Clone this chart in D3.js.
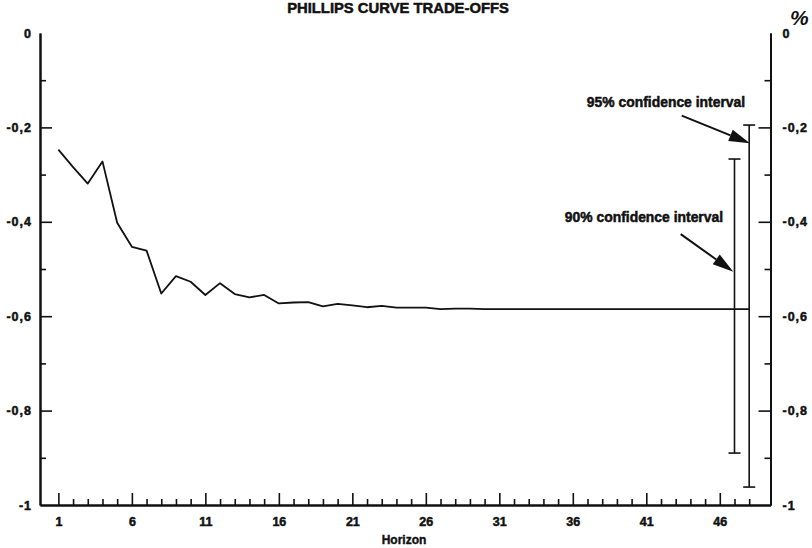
<!DOCTYPE html>
<html>
<head>
<meta charset="utf-8">
<script src="https://cdn.jsdelivr.net/npm/d3@7"></script>
<style>
  html, body { margin: 0; padding: 0; background: #fff; }
  svg { display: block; }
  text { font-family: "Liberation Sans", Arial, sans-serif; font-weight: bold; fill: #111; }
</style>
</head>
<body>
<svg id="chart" width="812" height="548"></svg>
<script>
// Horizon (quarters) and the estimated trade-off at each horizon
const horizon = [1, 2, 3, 4, 5, 6, 7, 8, 9, 10, 11, 12, 13, 14, 15, 16, 17, 18, 19, 20, 21, 22, 23, 24,
                 25, 26, 27, 28, 29, 30, 31, 32, 33, 34, 35, 36, 37, 38, 39, 40, 41, 42, 43, 44, 45, 46, 47, 48];
const tradeOff = [-0.247, -0.284, -0.319, -0.272, -0.402, -0.453, -0.461, -0.552, -0.515, -0.527, -0.555, -0.530,
                  -0.553, -0.560, -0.555, -0.573, -0.571, -0.570, -0.579, -0.574, -0.577, -0.581, -0.578, -0.582,
                  -0.582, -0.582, -0.585, -0.584, -0.584, -0.585, -0.585, -0.585, -0.585, -0.585, -0.585, -0.585,
                  -0.585, -0.585, -0.585, -0.585, -0.585, -0.585, -0.585, -0.585, -0.585, -0.585, -0.585, -0.585];

// Confidence intervals shown at the end of the horizon
const intervalNames = ["90% confidence interval", "95% confidence interval"];
const intervalAt = [47, 48];
const intervalLow = [-0.89, -0.962];
const intervalHigh = [-0.267, -0.195];

// Label and arrow anchors (horizon, value)
const labelPos = [[40.84, -0.389], [42.34, -0.1455]];
const arrowFrom = [[43.34, -0.426], [43.41, -0.175]];
const arrowTo = [[46.92, -0.5057], [48.05, -0.2337]];

// Axis ticks
const xLabelTicks = [1, 6, 11, 16, 21, 26, 31, 36, 41, 46];
const yMajorTicks = [0, -0.2, -0.4, -0.6, -0.8, -1];
const yMinorTicks = [-0.1, -0.3, -0.5, -0.7, -0.9];

const title = "PHILLIPS CURVE TRADE-OFFS";
const xTitle = "Horizon";
const unit = "%";

const svg = d3.select("#chart");
const ink = "#111";

const x = d3.scaleLinear().domain([-0.25, 49.45]).range([40, 770.5]);
const y = d3.scaleLinear().domain([-1, 0]).range([505, 33]);

const fmt = v => v === 0 ? "0" : (v === -1 ? "-1" : "-" + d3.format(".1f")(-v).replace(".", ","));

// Heavy lettering: bold face with a thin outline of the same ink
function heavy(sel, w) {
  sel.attr("stroke", ink).attr("stroke-width", w).attr("stroke-linejoin", "round");
}

function styleAxis(g) {
  g.select(".domain").attr("stroke", ink).attr("stroke-width", 2);
  g.selectAll(".tick line").attr("stroke", ink).attr("stroke-width", 1.6);
  g.selectAll(".tick text").attr("fill", ink).attr("font-size", 12.5)
    .attr("font-family", '"Liberation Sans", Arial, sans-serif').attr("font-weight", "bold")
    .call(heavy, 0.5);
}

// Bottom axis: labelled major ticks every five quarters, minor ticks in between
const minorX = horizon.filter(h => !xLabelTicks.includes(h));
svg.append("g").attr("transform", `translate(0,${y(-1)})`)
  .call(d3.axisBottom(x).tickValues(minorX).tickSizeInner(-6).tickSizeOuter(0).tickFormat(""))
  .call(styleAxis);
svg.append("g").attr("transform", `translate(0,${y(-1)})`)
  .call(d3.axisBottom(x).tickValues(xLabelTicks).tickSizeInner(-12).tickSizeOuter(0).tickPadding(12).tickFormat(d3.format("d")))
  .call(styleAxis);

// Left axis
svg.append("g").attr("transform", `translate(${x.range()[0]},0)`)
  .call(d3.axisLeft(y).tickValues(yMinorTicks).tickSizeInner(-6).tickSizeOuter(0).tickFormat(""))
  .call(styleAxis);
const leftAxis = svg.append("g").attr("transform", `translate(${x.range()[0]},0)`)
  .call(d3.axisLeft(y).tickValues(yMajorTicks).tickSizeInner(-12).tickSizeOuter(0).tickPadding(8).tickFormat(fmt))
  .call(styleAxis);
leftAxis.selectAll(".tick").filter(d => d === 0 || d === -1).select("line").remove();
leftAxis.selectAll(".tick text").attr("letter-spacing", 1);

// Right axis
svg.append("g").attr("transform", `translate(${x.range()[1]},0)`)
  .call(d3.axisRight(y).tickValues(yMinorTicks).tickSizeInner(-6).tickSizeOuter(0).tickFormat(""))
  .call(styleAxis);
const rightAxis = svg.append("g").attr("transform", `translate(${x.range()[1]},0)`)
  .call(d3.axisRight(y).tickValues(yMajorTicks).tickSizeInner(-12).tickSizeOuter(0).tickPadding(12).tickFormat(fmt))
  .call(styleAxis);
rightAxis.selectAll(".tick").filter(d => d === 0 || d === -1).select("line").remove();
rightAxis.selectAll(".tick text").attr("letter-spacing", 1);

// Trade-off line
const line = d3.line().x((d, i) => x(horizon[i])).y(d => y(d));
svg.append("path").datum(tradeOff)
  .attr("d", line).attr("fill", "none").attr("stroke", ink)
  .attr("stroke-width", 1.8).attr("stroke-linejoin", "round");

// Confidence intervals as capped vertical bars
const capHalf = 6;
intervalAt.forEach((h, i) => {
  const g = svg.append("g").attr("stroke", ink).attr("stroke-width", 1.6);
  g.append("line").attr("x1", x(h)).attr("x2", x(h)).attr("y1", y(intervalHigh[i])).attr("y2", y(intervalLow[i]));
  g.append("line").attr("x1", x(h) - capHalf).attr("x2", x(h) + capHalf).attr("y1", y(intervalHigh[i])).attr("y2", y(intervalHigh[i]));
  g.append("line").attr("x1", x(h) - capHalf).attr("x2", x(h) + capHalf).attr("y1", y(intervalLow[i])).attr("y2", y(intervalLow[i]));
});

// Annotation labels with arrows pointing at each interval
const headLen = 21, headHalf = 6;
intervalNames.forEach((name, i) => {
  svg.append("text").attr("x", x(labelPos[i][0])).attr("y", y(labelPos[i][1]) + 5)
    .attr("text-anchor", "middle").attr("font-size", 13.9).call(heavy, 0.5).text(name);
  const x0 = x(arrowFrom[i][0]), y0 = y(arrowFrom[i][1]);
  const x1 = x(arrowTo[i][0]), y1 = y(arrowTo[i][1]);
  const a = Math.atan2(y1 - y0, x1 - x0);
  const bx = x1 - headLen * Math.cos(a), by = y1 - headLen * Math.sin(a);
  svg.append("line").attr("x1", x0).attr("y1", y0).attr("x2", bx).attr("y2", by)
    .attr("stroke", ink).attr("stroke-width", 2);
  const px = -Math.sin(a) * headHalf, py = Math.cos(a) * headHalf;
  svg.append("path")
    .attr("d", `M${x1},${y1}L${bx + px},${by + py}L${bx - px},${by - py}Z`)
    .attr("fill", ink);
});

// Titles
svg.append("text").attr("x", 398).attr("y", 13).attr("text-anchor", "middle")
  .attr("font-size", 14.8).call(heavy, 0.5).text(title);
svg.append("text").attr("x", 404).attr("y", 544).attr("text-anchor", "middle")
  .attr("font-size", 12).call(heavy, 0.4).text(xTitle);
svg.append("text").attr("x", 790).attr("y", 25)
  .attr("font-family", '"Liberation Serif", "Times New Roman", serif')
  .attr("font-style", "italic").attr("font-weight", "normal").attr("font-size", 21).text(unit);
</script>
</body>
</html>
